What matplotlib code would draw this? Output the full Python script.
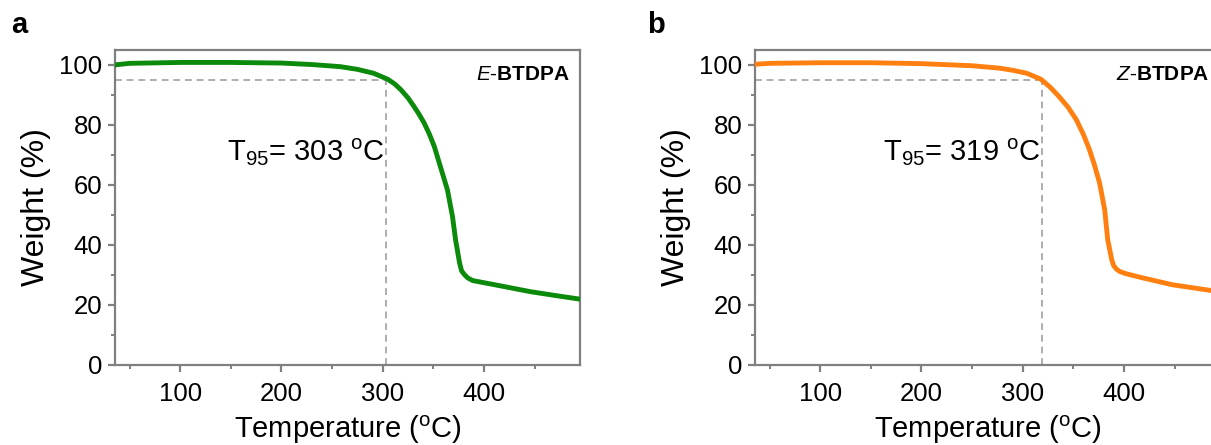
import matplotlib.pyplot as plt
from matplotlib.ticker import MultipleLocator

plt.rcParams['font.family'] = ['Liberation Sans', 'DejaVu Sans']
plt.rcParams['mathtext.fontset'] = 'custom'
plt.rcParams['mathtext.rm'] = 'Liberation Sans'
plt.rcParams['mathtext.it'] = 'Liberation Sans:italic'
plt.rcParams['mathtext.bf'] = 'Liberation Sans:bold'

# Datos
temp_e = [36, 50, 100, 150, 200, 230, 258, 275, 291, 305, 312, 318, 325, 331, 336, 341,
          346, 351, 357, 364, 369, 372, 376, 378, 381, 384, 389, 400, 417, 446, 473, 495]
peso_e = [100.0, 100.5, 100.8, 100.8, 100.6, 100.1, 99.4, 98.5, 97.2, 95.2, 93.6, 91.7,
          89.0, 86.1, 83.5, 80.6, 77.0, 72.8, 66.1, 58.3, 49.4, 41.7, 33.9, 31.3, 30.0,
          29.0, 28.1, 27.4, 26.3, 24.4, 23.0, 21.9]

temp_z = [36, 50, 100, 150, 200, 250, 277, 290, 304, 318, 327, 336, 345, 353, 360, 366,
          371, 376, 381, 384, 388, 390, 393, 396, 402, 416, 448, 486, 495]
peso_z = [100.2, 100.5, 100.7, 100.7, 100.4, 99.7, 98.9, 98.2, 97.2, 95.2, 92.6, 89.4,
          85.8, 81.7, 76.8, 71.7, 66.5, 60.6, 51.7, 41.7, 35.0, 33.0, 31.8, 31.1, 30.4,
          29.2, 26.7, 24.8, 24.3]

T95 = [303, 319]
nombres = [r'$\mathit{E}$-$\mathbf{BTDPA}$', r'$\mathit{Z}$-$\mathbf{BTDPA}$']
letras = ['a', 'b']
colores = ['#0b8a0b', '#ff8010']

GRIS = '#808080'

fig = plt.figure(figsize=(12.11, 4.45), dpi=100)


def grafica_tga(pos, temp, peso, t95, nombre, letra, color, letra_x):
    ax = fig.add_axes(pos)
    ax.plot(temp, peso, color=color, linewidth=3.5, solid_joinstyle='round', zorder=3)
    # lineas guia del T95
    ax.plot([36, t95], [95, 95], color='#adadad', linestyle=(0, (3.5, 2.5)), linewidth=1.4)
    ax.plot([t95, t95], [0, 95], color='#adadad', linestyle=(0, (3.5, 2.5)), linewidth=1.4)
    ax.text(t95 - 1, 67.8, r'T$_{95}$= %d $^{\mathrm{o}}$C' % t95, fontsize=21,
            ha='right', va='baseline')
    ax.text(0.978, 0.905, nombre, transform=ax.transAxes, ha='right', va='baseline',
            fontsize=15)

    ax.set_xlim(35.6, 495)
    ax.set_ylim(0, 105)
    ax.set_xticks([100, 200, 300, 400])
    ax.set_yticks([0, 20, 40, 60, 80, 100])
    ax.xaxis.set_minor_locator(MultipleLocator(50))
    ax.yaxis.set_minor_locator(MultipleLocator(10))
    for s in ax.spines.values():
        s.set_color(GRIS)
        s.set_linewidth(1.6)
    ax.tick_params(which='major', direction='out', length=5, width=1.6, color=GRIS,
                   labelsize=18.5, pad=4)
    ax.tick_params(axis='x', which='major', pad=7)
    ax.tick_params(which='minor', direction='out', length=3, width=1.4, color=GRIS)
    ax.set_xlabel(r'Temperature ($^{\mathrm{o}}$C)', fontsize=21, labelpad=6)
    ax.set_ylabel('Weight (%)', fontsize=23, labelpad=6)
    fig.text(letra_x, 0.925, letra, fontsize=21, fontweight='bold', ha='left', va='baseline')
    return ax


grafica_tga([0.095, 0.18, 0.384, 0.708], temp_e, peso_e, T95[0], nombres[0], letras[0],
            colores[0], 0.009)
grafica_tga([0.6235, 0.18, 0.384, 0.708], temp_z, peso_z, T95[1], nombres[1], letras[1],
            colores[1], 0.534)

fig.savefig('out.png', dpi=100)
